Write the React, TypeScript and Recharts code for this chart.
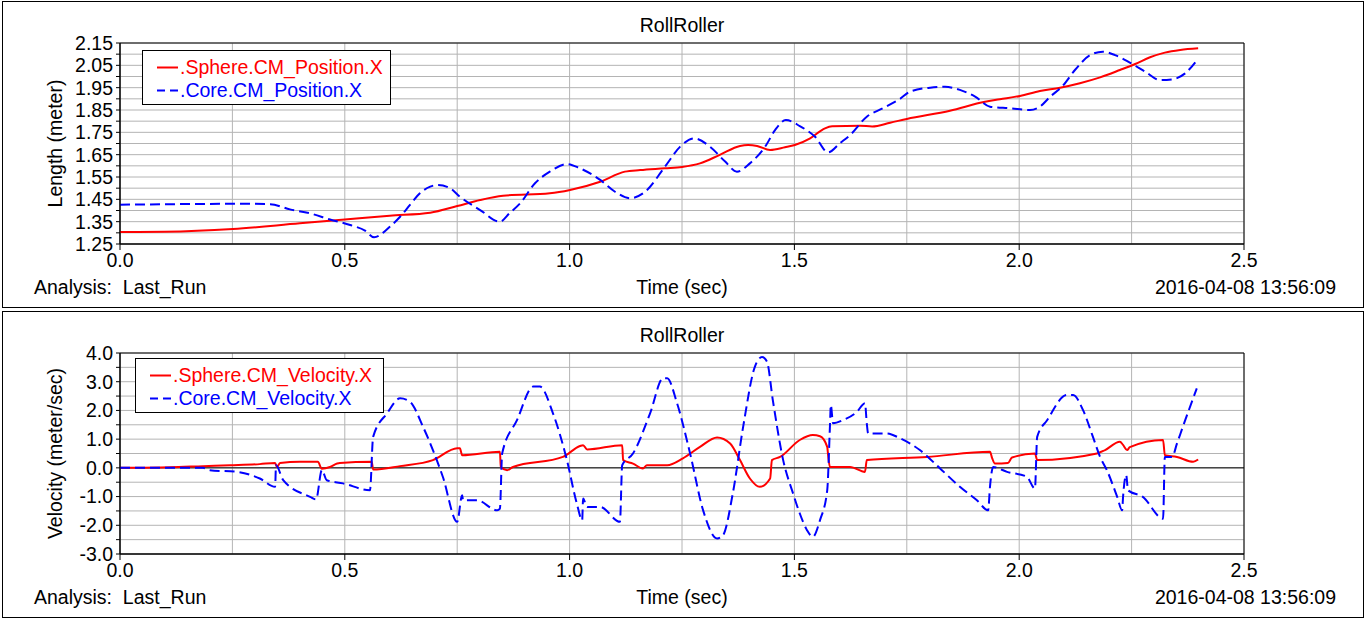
import React from "react";
import {
  LineChart,
  Line,
  XAxis,
  YAxis,
  CartesianGrid,
  ReferenceLine,
  ReferenceArea,
} from "recharts";

const FONT = '"Liberation Sans", Arial, sans-serif';
const FS = 19.5;
const RED = "#ff0000";
const BLUE = "#0000ff";
const GRID = "#b4b4b4";

// time axis (sec)
const xTicks = [0, 0.25, 0.5, 0.75, 1.0, 1.25, 1.5, 1.75, 2.0, 2.25, 2.5];

// top panel: position (meter)
const posTicks = [
  1.25, 1.3, 1.35, 1.4, 1.45, 1.5, 1.55, 1.6, 1.65, 1.7, 1.75, 1.8, 1.85, 1.9,
  1.95, 2.0, 2.05, 2.1, 2.15,
];

const spherePosT = [
  0, 0.1, 0.251, 0.4, 0.5, 0.6, 0.69, 0.75, 0.801, 0.852, 0.956, 1.001, 1.068,
  1.123, 1.157, 1.212, 1.25, 1.29, 1.334, 1.379, 1.397, 1.417, 1.446, 1.479,
  1.501, 1.535, 1.568, 1.584, 1.646, 1.673, 1.713, 1.75, 1.846, 1.924, 1.957,
  2.002, 2.046, 2.091, 2.135, 2.18, 2.224, 2.258, 2.291, 2.324, 2.358, 2.398,
];
const spherePosV = [
  1.304, 1.305, 1.317, 1.343, 1.36, 1.377, 1.39, 1.42, 1.447, 1.466, 1.477,
  1.492, 1.529, 1.574, 1.581, 1.589, 1.595, 1.611, 1.649, 1.689, 1.693, 1.689,
  1.671, 1.683, 1.693, 1.723, 1.768, 1.777, 1.78, 1.776, 1.793, 1.81, 1.847,
  1.887, 1.898, 1.913, 1.935, 1.95, 1.97, 1.996, 2.029, 2.056, 2.086, 2.107,
  2.119, 2.126,
];

const corePosT = [
  0, 0.1, 0.278, 0.334, 0.378, 0.423, 0.467, 0.512, 0.545, 0.565, 0.6, 0.623,
  0.645, 0.667, 0.69, 0.707, 0.734, 0.756, 0.801, 0.845, 0.867, 0.89, 0.923,
  0.956, 0.994, 1.023, 1.068, 1.101, 1.134, 1.168, 1.212, 1.246, 1.277, 1.312,
  1.346, 1.372, 1.401, 1.435, 1.457, 1.481, 1.512, 1.546, 1.575, 1.601, 1.624,
  1.661, 1.697, 1.735, 1.757, 1.802, 1.835, 1.868, 1.902, 1.935, 1.98, 2.024,
  2.046, 2.069, 2.095, 2.124, 2.158, 2.186, 2.213, 2.246, 2.28, 2.313, 2.34,
  2.369, 2.398,
];
const corePosV = [
  1.426, 1.428, 1.43, 1.428, 1.405, 1.387, 1.36, 1.335, 1.31, 1.28, 1.327,
  1.372, 1.425, 1.477, 1.507, 1.514, 1.5, 1.462, 1.402, 1.35, 1.389, 1.432,
  1.522, 1.574, 1.608, 1.589, 1.537, 1.484, 1.455, 1.484, 1.596, 1.686, 1.723,
  1.686, 1.619, 1.574, 1.611, 1.686, 1.76, 1.805, 1.778, 1.73, 1.66, 1.701,
  1.738, 1.82, 1.858, 1.9, 1.932, 1.95, 1.954, 1.94, 1.91, 1.865, 1.858, 1.85,
  1.865, 1.91, 1.954, 2.029, 2.096, 2.111, 2.096, 2.062, 2.022, 1.984, 1.987,
  2.014, 2.08,
];

// bottom panel: velocity (meter/sec)
const velTicks = [
  -3, -2.5, -2, -1.5, -1, -0.5, 0, 0.5, 1, 1.5, 2, 2.5, 3, 3.5, 4,
];

const sphereVelT = [
  0, 0.111, 0.185, 0.245, 0.311, 0.345, 0.349, 0.356, 0.4, 0.44, 0.449, 0.467,
  0.483, 0.489, 0.56, 0.563, 0.623, 0.696, 0.75, 0.756, 0.761, 0.845, 0.847,
  0.861, 0.874, 0.985, 1.023, 1.03, 1.039, 1.117, 1.119, 1.141, 1.163, 1.172,
  1.217, 1.252, 1.29, 1.328, 1.357, 1.379, 1.401, 1.423, 1.446, 1.45, 1.468,
  1.512, 1.541, 1.557, 1.573, 1.575, 1.579, 1.624, 1.657, 1.661, 1.795, 1.935,
  1.94, 1.946, 1.975, 1.984, 2.035, 2.04, 2.173, 2.191, 2.224, 2.231, 2.24,
  2.246, 2.32, 2.324, 2.351, 2.387, 2.398,
];
const sphereVelV = [
  0, 0.02, 0.06, 0.09, 0.13, 0.17, 0.03, 0.17, 0.21, 0.21, -0.03, 0.03, 0.15,
  0.17, 0.21, -0.06, 0.06, 0.27, 0.68, 0.68, 0.44, 0.56, 0.03, -0.08, 0.03,
  0.38, 0.76, 0.79, 0.64, 0.79, 0.27, 0.15, -0.02, 0.09, 0.09, 0.33, 0.73,
  1.06, 0.85, 0.27, -0.37, -0.66, -0.37, 0.27, 0.38, 0.97, 1.14, 1.1, 0.73,
  0.44, 0.03, 0.03, -0.14, 0.27, 0.38, 0.56, 0.33, 0.15, 0.17, 0.36, 0.5, 0.27,
  0.5, 0.62, 0.91, 0.8, 0.62, 0.72, 0.97, 0.44, 0.38, 0.21, 0.29,
];

const coreVelT = [
  0, 0.185, 0.2, 0.26, 0.311, 0.345, 0.347, 0.363, 0.423, 0.436, 0.449, 0.46,
  0.496, 0.556, 0.563, 0.594, 0.623, 0.645, 0.674, 0.696, 0.718, 0.75, 0.761,
  0.763, 0.794, 0.839, 0.845, 0.85, 0.883, 0.919, 0.934, 0.963, 0.994, 1.016,
  1.028, 1.03, 1.039, 1.068, 1.112, 1.117, 1.141, 1.179, 1.208, 1.217, 1.239,
  1.268, 1.297, 1.328, 1.341, 1.363, 1.386, 1.412, 1.428, 1.439, 1.452, 1.475,
  1.497, 1.512, 1.528, 1.541, 1.557, 1.573, 1.579, 1.581, 1.586, 1.608, 1.639,
  1.657, 1.661, 1.664, 1.706, 1.735, 1.779, 1.824, 1.868, 1.906, 1.931, 1.935,
  1.942, 1.973, 2.017, 2.035, 2.04, 2.062, 2.106, 2.12, 2.142, 2.164, 2.18,
  2.195, 2.218, 2.229, 2.231, 2.238, 2.242, 2.275, 2.32, 2.324, 2.34, 2.351,
  2.364, 2.395,
];
const coreVelV = [
  0, 0, -0.08, -0.14, -0.37, -0.66, 0.09, -0.43, -1.01, -1.1, -0.08, -0.43,
  -0.54, -0.78, 1.08, 1.9, 2.42, 2.3, 1.43, 0.62, -0.31, -1.88, -0.95, -1.13,
  -1.13, -1.48, -1.42, 0.5, 1.66, 2.83, 2.83, 1.9, 0.27, -1.24, -1.82, -1.07,
  -1.36, -1.36, -1.88, 0.09, 0.5, 1.9, 3.12, 3.12, 2.25, 0.5, -1.48, -2.46,
  -2.35, -0.89, 1.43, 3.52, 3.86, 3.7, 2.36, 0.27, -0.89, -1.59, -2.17, -2.4,
  -1.82, -0.78, 1.43, 2.19, 1.55, 1.66, 1.95, 2.25, 1.55, 1.2, 1.2, 1.03, 0.62,
  -0.02, -0.66, -1.13, -1.48, -0.66, 0.03, -0.14, -0.31, -0.72, 1.08, 1.66,
  2.54, 2.54, 2.01, 1.08, 0.38, -0.08, -1.01, -1.48, -1.01, -0.25, -0.78, -1.01,
  -1.77, 0.38, 0.38, 0.85, 1.43, 2.77,
];

const zip = (t: number[], v: number[]) => t.map((x, i) => ({ t: x, v: v[i] }));

const XTick = (props: any) => {
  const { x, y, payload } = props;
  const val = payload.value as number;
  const major = Math.abs(val * 2 - Math.round(val * 2)) < 1e-6;
  if (!major) return <g />;
  return (
    <g>
      <line x1={x} x2={x} y1={y} y2={y + 6} stroke="#000" />
      <text x={x} y={y + 9} dy="0.71em" textAnchor="middle" fill="#000" fontSize={FS}>
        {val.toFixed(1)}
      </text>
    </g>
  );
};

const YTitle = (props: any) => {
  const vb = props.viewBox;
  const cy = vb && typeof vb.y === "number" ? vb.y + vb.height / 2 : 143;
  return (
    <text
      x={55}
      y={cy}
      dy="0.35em"
      textAnchor="middle"
      fill="#000"
      fontSize={FS}
      transform={`rotate(-90 55 ${cy})`}
    >
      {props.text}
    </text>
  );
};

type Series = { name: string; color: string; dash?: string; data: { t: number; v: number }[] };

function Panel({
  top,
  yLabel,
  yDomain,
  yTicks,
  yFormat,
  series,
  legendLeft,
  legendTop,
  zeroLine,
}: {
  top: number;
  yLabel: string;
  yDomain: [number, number];
  yTicks: number[];
  yFormat: (v: number, i: number) => string;
  series: Series[];
  legendLeft: number;
  legendTop: number;
  zeroLine?: boolean;
}) {
  const text: React.CSSProperties = { position: "absolute", fontSize: FS, color: "#000", whiteSpace: "pre", lineHeight: "normal" };
  return (
    <div style={{ position: "absolute", left: 0, top, width: 1366, height: 310 }}>
      <div
        style={{
          position: "absolute",
          left: 2,
          top: 1,
          width: 1362,
          height: 307,
          border: "1px solid #000",
          boxSizing: "border-box",
        }}
      />
      <div style={{ ...text, left: 0, top: 14, width: 1364, textAlign: "center" }}>RollRoller</div>
      <div style={{ position: "absolute", left: 0, top: 0 }}>
        <LineChart width={1366} height={310} margin={{ top: 43, right: 122, bottom: 16, left: 60 }}>
          <CartesianGrid stroke={GRID} />
          <XAxis
            type="number"
            dataKey="t"
            domain={[0, 2.5]}
            ticks={xTicks}
            interval={0}
            tickSize={0}
            tickMargin={0}
            tickLine={false}
            axisLine={{ stroke: "#000" }}
            tick={<XTick />}
            height={50}
          />
          <YAxis
            type="number"
            dataKey="v"
            domain={yDomain}
            ticks={yTicks}
            interval={0}
            width={60}
            tickSize={4}
            tickMargin={3}
            tickLine={{ stroke: "#000" }}
            axisLine={{ stroke: "#000" }}
            tick={{ fill: "#000", fontSize: FS }}
            tickFormatter={yFormat}
            label={<YTitle text={yLabel} />}
          />
          {zeroLine && <ReferenceLine y={0} stroke="#000" strokeWidth={1} />}
          {series.map((s) => (
            <Line
              key={s.name}
              data={s.data}
              dataKey="v"
              name={s.name}
              type="monotone"
              stroke={s.color}
              strokeWidth={2}
              strokeDasharray={s.dash}
              dot={false}
              activeDot={false}
              isAnimationActive={false}
            />
          ))}
          <ReferenceArea
            x1={0}
            x2={2.5}
            y1={yDomain[0]}
            y2={yDomain[1]}
            fill="none"
            fillOpacity={0}
            stroke="#000"
            strokeWidth={1}
          />
        </LineChart>
      </div>
      <div
        style={{
          position: "absolute",
          left: legendLeft,
          top: legendTop,
          width: 249,
          height: 55,
          border: "1px solid #000",
          boxSizing: "border-box",
          background: "#fff",
        }}
      >
        {series.map((s, i) => (
          <div key={s.name} style={{ position: "absolute", left: 0, top: 5 + i * 23, height: 23, width: 247 }}>
            <svg width={21} height={23} style={{ position: "absolute", left: 14, top: 0 }}>
              <line x1={0} x2={21} y1={11.5} y2={11.5} stroke={s.color} strokeWidth={2} strokeDasharray={s.dash ? "8 5" : undefined} />
            </svg>
            <div style={{ ...text, left: 37, top: 0, lineHeight: "23px", color: s.color }}>{s.name}</div>
          </div>
        ))}
      </div>
      <div style={{ ...text, left: 34, top: 276 }}>{"Analysis:  Last_Run"}</div>
      <div style={{ ...text, left: 0, top: 276, width: 1364, textAlign: "center" }}>Time (sec)</div>
      <div style={{ ...text, right: 30, top: 276 }}>2016-04-08 13:56:09</div>
    </div>
  );
}

export default function App() {
  return (
    <div
      style={{
        position: "absolute",
        left: 0,
        top: 0,
        width: 1366,
        height: 620,
        background: "#fff",
        fontFamily: FONT,
        overflow: "hidden",
      }}
    >
      <Panel
        top={0}
        yLabel="Length (meter)"
        yDomain={[1.25, 2.15]}
        yTicks={posTicks}
        yFormat={(v, i) => (i % 2 === 0 ? v.toFixed(2) : "")}
        legendLeft={142}
        legendTop={50}
        series={[
          { name: ".Sphere.CM_Position.X", color: RED, data: zip(spherePosT, spherePosV) },
          { name: ".Core.CM_Position.X", color: BLUE, dash: "10 5", data: zip(corePosT, corePosV) },
        ]}
      />
      <Panel
        top={310}
        yLabel="Velocity (meter/sec)"
        yDomain={[-3, 4]}
        yTicks={velTicks}
        yFormat={(v) => (Number.isInteger(v) ? v.toFixed(1) : "")}
        legendLeft={135}
        legendTop={48}
        zeroLine
        series={[
          { name: ".Sphere.CM_Velocity.X", color: RED, data: zip(sphereVelT, sphereVelV) },
          { name: ".Core.CM_Velocity.X", color: BLUE, dash: "10 5", data: zip(coreVelT, coreVelV) },
        ]}
      />
    </div>
  );
}
